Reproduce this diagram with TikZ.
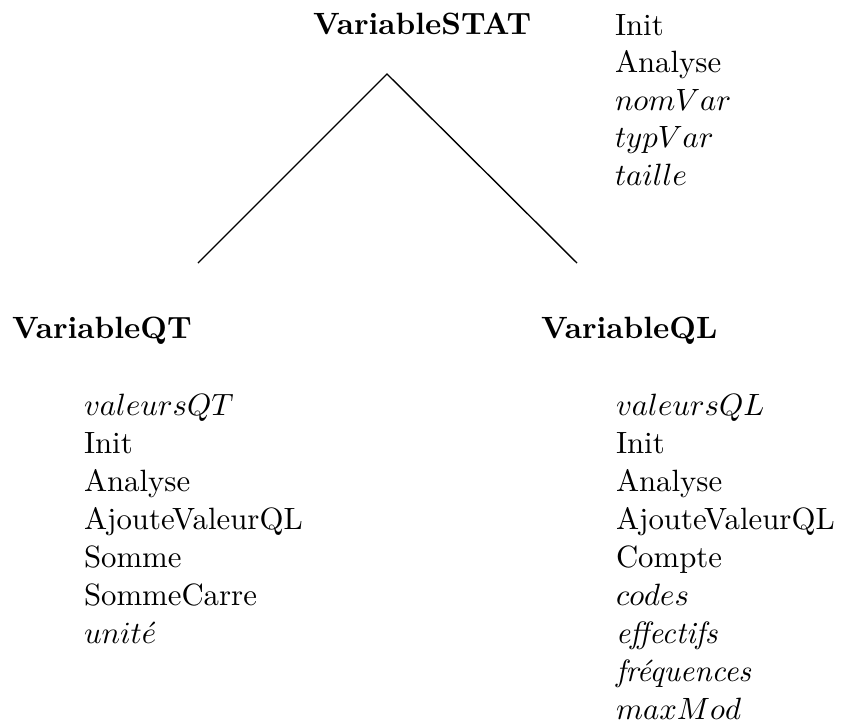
\documentclass[tikz,border=0pt]{standalone}
\begin{document}
\begin{tikzpicture}[x=0.3247pt,y=-0.3247pt,
  every node/.style={inner sep=0pt,outer sep=0pt,anchor=base west,font=\fontsize{10}{12}\selectfont},
  cls/.style={font=\fontsize{10}{12}\selectfont\bfseries},
  member/.style={},
  link/.style={line width=0.45pt,line join=miter}]
\useasboundingbox (0,0) rectangle (841,720);
% class names
\node[cls] (stat) at (313,34) {VariableSTAT};
\node[cls] (qt) at (12,338) {VariableQT};
\node[cls] (ql) at (541,338) {VariableQL};
% members of VariableSTAT
\foreach \t [count=\i] in {Init,Analyse,$nomVar$,$typVar$,$taille$}
  \node[member] (s\i) at (615,{35+37.5*(\i-1)}) {\t};
% members of VariableQT
\foreach \t [count=\i] in {$valeursQT$,Init,Analyse,AjouteValeurQL,Somme,SommeCarre,$unit\acute{e}$}
  \node[member] (a\i) at (84,{415+38*(\i-1)}) {\t};
% members of VariableQL
\foreach \t [count=\i] in {$valeursQL$,Init,Analyse,AjouteValeurQL,Compte,$codes$,\textit{effectifs},\textit{fréquences},$maxMod$}
  \node[member] (b\i) at (616,{415+38*(\i-1)}) {\t};
% inheritance triangle
\coordinate (apex) at (387,74);
\coordinate (lend) at (198,263);
\coordinate (rend) at (577,263);
\draw[link] (lend) -- (apex) -- (rend);
\end{tikzpicture}
\end{document}
